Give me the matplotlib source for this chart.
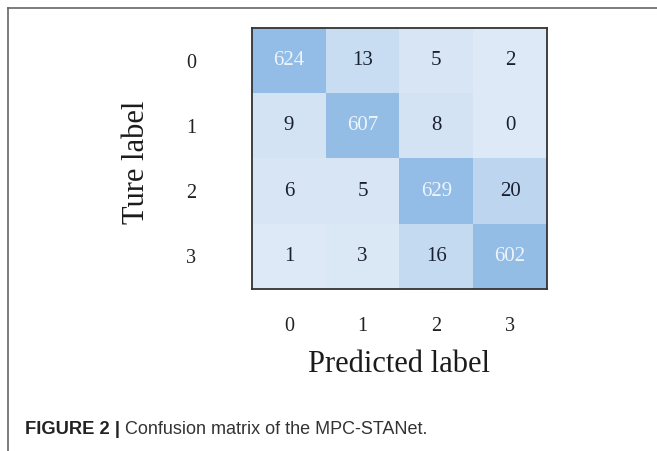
import numpy as np
import matplotlib
matplotlib.use("Agg")
import matplotlib.pyplot as plt
from matplotlib.colors import LinearSegmentedColormap, Normalize
from matplotlib.lines import Line2D

classes = ["0", "1", "2", "3"]
cm = np.array([
    [624, 13, 5, 2],
    [9, 607, 8, 0],
    [6, 5, 629, 20],
    [1, 3, 16, 602],
])
caption_bold = "FIGURE 2 |"
caption_text = " Confusion matrix of the MPC-STANet."

# washed-out blues like the printed figure
cmap = LinearSegmentedColormap.from_list(
    "washed_blues",
    [(0.0, "#dde9f6"), (0.01, "#d6e5f5"), (0.02, "#c8dcf2"),
     (0.035, "#bad4ef"), (1.0, "#93bde6")])
norm = Normalize(vmin=0, vmax=cm.max())

fig = plt.figure(figsize=(6.57, 4.51), dpi=100)
ax = fig.add_axes([252/657, 1-289/451, 295/657, 261/451])
ax.imshow(cm, cmap=cmap, norm=norm, aspect="auto", interpolation="nearest")

serif = "Liberation Serif"
for i in range(cm.shape[0]):
    for j in range(cm.shape[1]):
        v = cm[i, j]
        col = "#eef4fb" if i == j else "#1b2030"
        ax.text(j, i, str(v), ha="center", va="center", color=col,
                fontsize=15, family=serif)

ax.set_xticks(range(len(classes)))
ax.set_yticks(range(len(classes)))
ax.set_xticklabels(classes, family=serif, fontsize=14.5, color="#222222")
ax.set_yticklabels(classes, family=serif, fontsize=14.5, color="#222222")
ax.tick_params(axis="x", length=0, pad=20)
ax.tick_params(axis="y", length=0, pad=40)
for s in ax.spines.values():
    s.set_color("#333333")
    s.set_linewidth(1.3)

ax.set_xlabel("Predicted label", family=serif, fontsize=22, color="#1b1b1b", va="center")
ax.xaxis.set_label_coords(0.5, -0.29)
ax.set_ylabel("Ture label", family=serif, fontsize=22, color="#1b1b1b", va="center")
ax.yaxis.set_label_coords(-0.39, 0.487)

# partial frame of the page crop
fig.add_artist(Line2D([8/657, 1.0], [1-8/451, 1-8/451], color="#666666", lw=1.2))
fig.add_artist(Line2D([8/657, 8/657], [0.0, 1-8/451], color="#666666", lw=1.2))

# caption
t1 = fig.text(25/657, 1-429/451, caption_bold, fontsize=13.2, fontweight="bold",
              family="Liberation Sans", color="#222222", va="center")
fig.canvas.draw()
bb = t1.get_window_extent(fig.canvas.get_renderer())
fig.text(bb.x1/fig.bbox.width, 1-429/451, caption_text, fontsize=13,
         family="Liberation Sans", color="#333333", va="center")

fig.savefig("out.png", dpi=100)
